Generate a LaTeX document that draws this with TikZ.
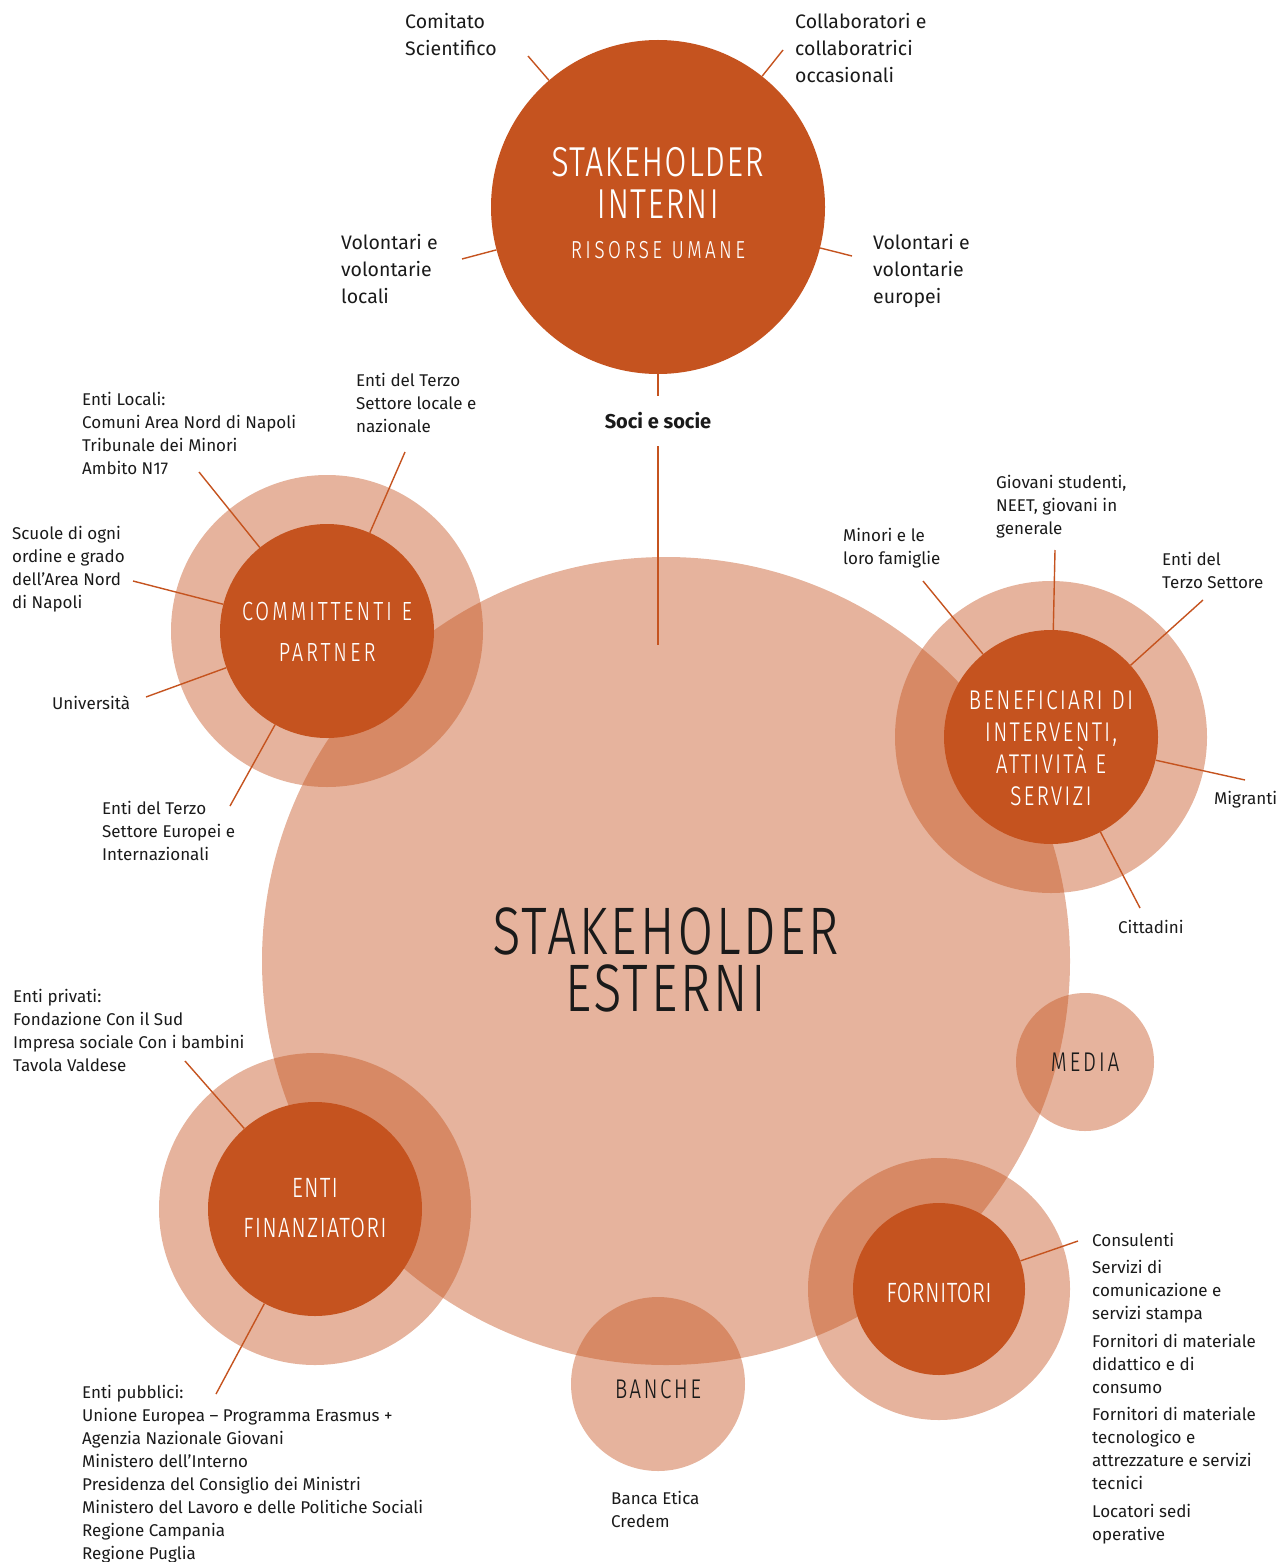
\documentclass[tikz,border=0pt]{standalone}
\usepackage{fontspec}
\setmainfont{Fira Sans}
\newfontfamily\titlefont[Letters={SmallCaps,UppercaseSmallCaps},FakeStretch=0.72]{Fira Sans Light}
\definecolor{rust}{HTML}{C5531F}
\definecolor{ink}{HTML}{1A1A1A}

\begin{document}
\begin{tikzpicture}[x=1pt,y=-1pt,
	ring/.style={circle, fill=rust, fill opacity=0.44, inner sep=0pt, minimum size=#1},
	core/.style={circle, fill=rust, inner sep=0pt, minimum size=#1},
	leader/.style={draw=rust, line width=1.4pt},
	lbl/.style={anchor=north west, align=left, inner sep=0pt, text=ink, font=\fontsize{17}{23}\selectfont},
	toplbl/.style={lbl, font=\fontsize{19.5}{27}\selectfont},
	title/.style={align=center, inner sep=0pt}
	]
	\useasboundingbox (0,0) rectangle (1285,1562);
	%%%light circles
	\node[ring=808pt] (est) at (666,961) {};
	\node[ring=312pt] (comring) at (327,631) {};
	\node[ring=312pt] (benring) at (1051,737) {};
	\node[ring=312pt] (finring) at (315,1209) {};
	\node[ring=138pt] (media) at (1085,1062) {};
	\node[ring=262pt] (fornring) at (939,1289) {};
	\node[ring=174pt] (banche) at (658,1384) {};
	%%%dark circles
	\node[core=334pt] (int) at (658,207) {};
	\node[core=214pt] (com) at (327,631) {};
	\node[core=214pt] (ben) at (1051,737) {};
	\node[core=214pt] (fin) at (315,1209) {};
	\node[core=172pt] (forn) at (939,1289) {};
	%%%titles
	\node[title, text=white, font=\titlefont\addfontfeatures{LetterSpace=1.5}\fontsize{51}{42}\selectfont] (intname) at (658,183) {Stakeholder\\interni};
	\node[title, text=white, font=\titlefont\addfontfeatures{LetterSpace=10}\fontsize{30}{30}\selectfont] (intsub) at (658,250) {Risorse umane};
	\node[title, text=ink, font=\titlefont\addfontfeatures{LetterSpace=2}\fontsize{82}{57}\selectfont] (estname) at (666,960) {Stakeholder\\esterni};
	\node[title, text=white, font=\titlefont\addfontfeatures{LetterSpace=8}\fontsize{32}{41}\selectfont] (comname) at (327,632) {Committenti e\\partner};
	\node[title, text=white, font=\titlefont\addfontfeatures{LetterSpace=5.5}\fontsize{33}{32}\selectfont] (benname) at (1051,748) {Beneficiari di\\interventi,\\attività e\\servizi};
	\node[title, text=white, font=\titlefont\addfontfeatures{LetterSpace=2.5}\fontsize{34}{40}\selectfont] (finname) at (315,1208) {Enti\\finanziatori};
	\node[title, text=white, font=\titlefont\fontsize{34}{40}\selectfont] (fornname) at (939,1293) {Fornitori};
	\node[title, text=ink, font=\titlefont\addfontfeatures{LetterSpace=7}\fontsize{33}{40}\selectfont] (medianame) at (1085,1062) {media};
	\node[title, text=ink, font=\titlefont\addfontfeatures{LetterSpace=6}\fontsize{33}{40}\selectfont] (banchename) at (658,1389) {Banche};
	%%%labels
	%interni
	\node[toplbl] at (405,13.5) (comitato){Comitato\\Scientifico};
	\node[toplbl] at (795,13.5) (collab){Collaboratori e\\collaboratrici\\occasionali};
	\node[toplbl] at (341,234.5) (vollocali){Volontari e\\volontarie\\locali};
	\node[toplbl] at (873,234.5) (voleuropei){Volontari e\\volontarie\\europei};
	\node[inner sep=0pt, minimum height=50pt, text=ink, font=\bfseries\fontsize{20}{23}\selectfont] at (658,421) (soci){Soci e socie};
	%committenti
	\node[lbl] at (356,373) (terzoloc){Enti del Terzo\\Settore locale e\\nazionale};
	\node[lbl] at (82,392) (entiloc){Enti Locali:\\Comuni Area Nord di Napoli\\Tribunale dei Minori\\Ambito N17};
	\node[lbl] at (12,526) (scuole){Scuole di ogni\\ordine e grado\\dell’Area Nord\\di Napoli};
	\node[lbl] at (52,696) (univ){Università};
	\node[lbl] at (102,801) (terzoeur){Enti del Terzo\\Settore Europei e\\Internazionali};
	%beneficiari
	\node[lbl] at (843,528) (minori){Minori e le\\loro famiglie};
	\node[lbl] at (996,475) (giovani){Giovani studenti,\\NEET, giovani in\\generale};
	\node[lbl] at (1162,552) (terzoben){Enti del\\Terzo Settore};
	\node[lbl] at (1214,791) (migranti){Migranti};
	\node[lbl] at (1118,920) (cittadini){Cittadini};
	%finanziatori
	\node[lbl] at (13,989) (privati){Enti privati:\\Fondazione Con il Sud\\Impresa sociale Con i bambini\\Tavola Valdese};
	\node[lbl] at (82,1385) (pubblici){Enti pubblici:\\Unione Europea – Programma Erasmus +\\Agenzia Nazionale Giovani\\Ministero dell'Interno\\Presidenza del Consiglio dei Ministri\\Ministero del Lavoro e delle Politiche Sociali\\Regione Campania\\Regione Puglia};
	%banche, fornitori
	\node[lbl] at (611,1491) (banchelist){Banca Etica\\Credem};
	\node[lbl] at (1092,1233) (fornlist){Consulenti\\[4.5pt]Servizi di\\comunicazione e\\servizi stampa\\[4.5pt]Fornitori di materiale\\didattico e di\\consumo\\[4.5pt]Fornitori di materiale\\tecnologico e\\attrezzature e servizi\\tecnici\\[4.5pt]Locatori sedi\\operative};
	%%%leaders
	%interni
	\coordinate (comitatoEnd) at (528,56);
	\coordinate (collabEnd) at (783,50);
	\coordinate (vollocaliEnd) at (462,259);
	\coordinate (voleuropeiEnd) at (852,256);
	\coordinate (sociEnd) at (658,645);
	\draw[leader] (comitatoEnd) -- (int);
	\draw[leader] (collabEnd) -- (int);
	\draw[leader] (vollocaliEnd) -- (int);
	\draw[leader] (voleuropeiEnd) -- (int);
	\draw[leader] (int.south) -- (soci.north);
	\draw[leader] (soci.south) -- (sociEnd);
	%committenti
	\coordinate (entilocEnd) at (199,472);
	\coordinate (terzolocEnd) at (405,452);
	\coordinate (scuoleEnd) at (133,581);
	\coordinate (univEnd) at (146,697);
	\coordinate (terzoeurEnd) at (230,806);
	\draw[leader] (entilocEnd) -- (com);
	\draw[leader] (terzolocEnd) -- (com);
	\draw[leader] (scuoleEnd) -- (com);
	\draw[leader] (univEnd) -- (com);
	\draw[leader] (terzoeurEnd) -- (com);
	%beneficiari
	\coordinate (minoriEnd) at (923,581);
	\coordinate (giovaniEnd) at (1055,550);
	\coordinate (terzobenEnd) at (1203,600);
	\coordinate (migrantiEnd) at (1245,780);
	\coordinate (cittadiniEnd) at (1140,908);
	\draw[leader] (minoriEnd) -- (ben);
	\draw[leader] (giovaniEnd) -- (ben);
	\draw[leader] (terzobenEnd) -- (ben);
	\draw[leader] (migrantiEnd) -- (ben);
	\draw[leader] (cittadiniEnd) -- (ben);
	%finanziatori, fornitori
	\coordinate (privatiEnd) at (185,1061);
	\coordinate (pubbliciEnd) at (216,1394);
	\coordinate (consulentiEnd) at (1078,1241);
	\draw[leader] (privatiEnd) -- (fin);
	\draw[leader] (pubbliciEnd) -- (fin);
	\draw[leader] (consulentiEnd) -- (forn);
\end{tikzpicture}
\end{document}
